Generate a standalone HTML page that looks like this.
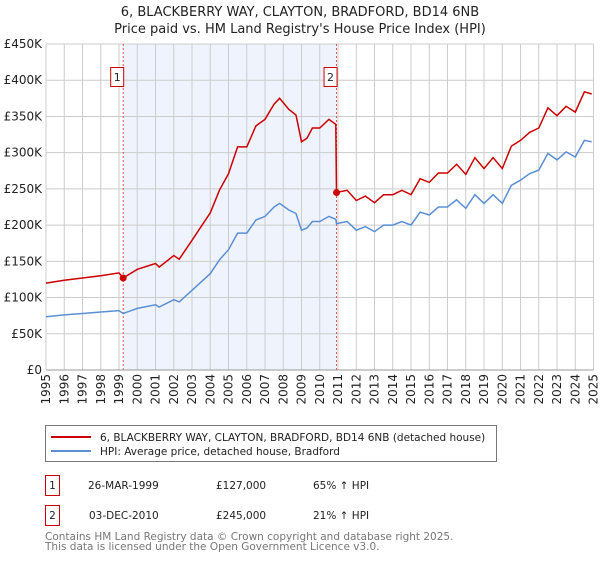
<!DOCTYPE html>
<html><head><meta charset="utf-8"><style>
body{margin:0;background:#fff;font-family:"DejaVu Sans","Liberation Sans",sans-serif;}
svg text{font-family:"DejaVu Sans","Liberation Sans",sans-serif;}
</style></head><body>
<svg id="chart" width="600" height="560" xmlns="http://www.w3.org/2000/svg">
<text x="300" y="16" text-anchor="middle" font-size="13" fill="#222">6, BLACKBERRY WAY, CLAYTON, BRADFORD, BD14 6NB</text>
<text x="300" y="33" text-anchor="middle" font-size="13" fill="#222">Price paid vs. HM Land Registry's House Price Index (HPI)</text>
<g id="plot"></g>
<g>
<rect x="45.5" y="425.5" width="451" height="36" fill="#fff" stroke="#777"/>
<line x1="51" y1="437" x2="91" y2="437" stroke="#cc0000" stroke-width="2"/>
<text x="100" y="441" font-size="10.5" fill="#222">6, BLACKBERRY WAY, CLAYTON, BRADFORD, BD14 6NB (detached house)</text>
<line x1="51" y1="451" x2="91" y2="451" stroke="#5b8fd4" stroke-width="2"/>
<text x="100" y="455" font-size="10.5" fill="#222">HPI: Average price, detached house, Bradford</text>
</g>
<g font-size="10.5" fill="#222">
<rect x="45.5" y="475.5" width="14" height="20" fill="#fff" stroke="#cc0000"/>
<text x="52.5" y="489" text-anchor="middle">1</text>
<text x="88" y="489">26-MAR-1999</text><text x="216" y="489">£127,000</text><text x="313" y="489">65% ↑ HPI</text>
<rect x="45.5" y="505.5" width="14" height="20" fill="#fff" stroke="#cc0000"/>
<text x="52.5" y="519" text-anchor="middle">2</text>
<text x="89" y="519">03-DEC-2010</text><text x="216" y="519">£245,000</text><text x="313" y="519">21% ↑ HPI</text>
</g>
<text x="45" y="540" font-size="10.5" fill="#777">Contains HM Land Registry data © Crown copyright and database right 2025.</text>
<text x="45" y="550" font-size="10.5" fill="#777">This data is licensed under the Open Government Licence v3.0.</text>
</svg>
<script>
const dates=[1995,1996,1997,1998,1999.0,1999.23,2000,2001,2001.2,2002,2002.3,2003,2004,2004.5,2005,2005.5,2006,2006.5,2007,2007.5,2007.8,2008.3,2008.7,2009,2009.3,2009.6,2010,2010.5,2010.88,2010.92,2011.5,2012,2012.5,2013,2013.5,2014,2014.5,2015,2015.5,2016,2016.5,2017,2017.5,2018,2018.5,2019,2019.5,2020,2020.5,2021,2021.5,2022,2022.5,2023,2023.5,2024,2024.5,2024.9];
const hpiValues=[73.6,76,78,80,82,78,85,90,87,97,94,110,133,152,166,189,189,207,212,225,230,221,216,193,196,205,205,212,208,202,205,193,198,191,200,200,205,200,218,214,225,225,235,223,242,230,242,230,255,262,271,276,299,290,301,294,317,315];
const priceValues=[120,124,127,130,134,127,139,147,142,158,153,179,217,248,271,308,308,337,346,367,375,360,352,315,320,334,334,346,339,245,248,234,240,231,242,242,248,242,264,259,272,272,284,270,293,278,293,278,309,317,328,334,362,351,364,356,384,381];
const yTicks=[0,50,100,150,200,250,300,350,400,450];
const yTickLabels=["£0","£50K","£100K","£150K","£200K","£250K","£300K","£350K","£400K","£450K"];
const years=[1995,1996,1997,1998,1999,2000,2001,2002,2003,2004,2005,2006,2007,2008,2009,2010,2011,2012,2013,2014,2015,2016,2017,2018,2019,2020,2021,2022,2023,2024,2025];
const saleDates=[1999.23,2010.92];
const salePrices=[127,245];
const saleLabels=["1","2"];

const NS="http://www.w3.org/2000/svg";
const L=46,R=593.5,T=44,B=370;
const x=d=>L+(d-1995)/(2025-1995)*(R-L);
const y=v=>B-v/450*(B-T);
const g=document.getElementById('plot');
function mk(tag,attrs){const e=document.createElementNS(NS,tag);for(const k in attrs)e.setAttribute(k,attrs[k]);g.appendChild(e);return e;}
let sh=mk('rect',{x:x(saleDates[0]),y:T,width:x(saleDates[1])-x(saleDates[0]),height:B-T,fill:'#eef3fd'});


yTicks.forEach((v,i)=>{
 let l=mk('line',{x1:L,x2:R,y1:y(v),y2:y(v),stroke:'#ccc'});
 
 
 let t=mk('text',{x:L-4,y:y(v)+4,'text-anchor':'end','font-size':12,fill:'#222'});
 t.textContent=yTickLabels[i];
 
 
});
years.forEach(yr=>{
 let l=mk('line',{x1:x(yr),x2:x(yr),y1:T,y2:B,stroke:'#ccc'});
 
 
 let t=mk('text',{x:0,y:0,'text-anchor':'end','font-size':12,fill:'#222',transform:`translate(${x(yr)+4},${B+4}) rotate(-90)`});
 t.textContent=yr;
 
 
});
saleDates.forEach((d,i)=>{
 let l=mk('line',{x1:x(d),x2:x(d),y1:T,y2:B,stroke:'#e05050','stroke-dasharray':'2,2'});
 
 
});
const pts=(vals)=>dates.map((d,i)=>x(d).toFixed(1)+','+y(vals[i]).toFixed(1)).join(' ');
let hp=mk('polyline',{points:pts(hpiValues),fill:'none',stroke:'#5b8fd4','stroke-width':1.5});


let pp=mk('polyline',{points:pts(priceValues),fill:'none',stroke:'#cc0000','stroke-width':1.5});


saleDates.forEach((d,i)=>{
 let c=mk('circle',{cx:x(d),cy:y(salePrices[i]),r:3.5,fill:'#cc0000'});
 
 
 let r=mk('rect',{x:x(d)-12.5,y:67.5,width:13,height:19,fill:'#fff',stroke:'#cc0000'});
 
 
 let t=mk('text',{x:x(d)-6,y:81,'text-anchor':'middle','font-size':11,fill:'#222'});
 t.textContent=saleLabels[i];
 
 
});
let ax=mk('line',{x1:L,x2:R,y1:B,y2:B,stroke:'#999'});


</script>
</body></html>
